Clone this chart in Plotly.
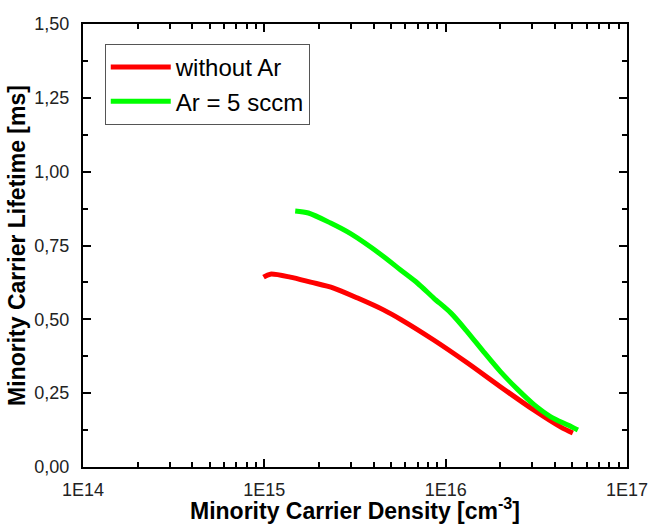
import plotly.graph_objects as go

red_x = [0.99e15, 1.08e15, 1.39e15, 1.80e15, 2.41e15, 3.27e15, 4.54e15, 5.64e15, 8.59e15, 1.32e16, 2.01e16, 3.06e16, 4.32e16, 5.03e16]
red_y = [0.643, 0.653, 0.643, 0.626, 0.606, 0.572, 0.532, 0.500, 0.430, 0.352, 0.271, 0.193, 0.135, 0.115]

green_x = [1.48e15, 1.75e15, 2.32e15, 2.99e15, 4.54e15, 5.64e15, 6.98e15, 8.59e15, 1.07e16, 1.32e16, 1.62e16, 2.01e16, 2.50e16, 3.06e16, 3.80e16, 4.72e16, 5.36e16]
green_y = [0.867, 0.860, 0.826, 0.790, 0.713, 0.667, 0.623, 0.572, 0.521, 0.457, 0.390, 0.322, 0.262, 0.212, 0.170, 0.142, 0.125]

x_tickvals = [1e14, 1e15, 1e16, 1e17]
x_ticktext = ["1E14", "1E15", "1E16", "1E17"]
x_minor = [m * 10 ** e for e in (14, 15, 16) for m in range(2, 10)]
y_tickvals = [0, 0.25, 0.5, 0.75, 1.0, 1.25, 1.5]

FONT = "Liberation Sans, Arial, sans-serif"

fig = go.Figure()
fig.add_trace(go.Scatter(x=red_x, y=red_y, mode="lines", name="without Ar",
                         line=dict(color="#FF0000", width=5, shape="spline", smoothing=0.8)))
fig.add_trace(go.Scatter(x=green_x, y=green_y, mode="lines", name="Ar = 5 sccm",
                         line=dict(color="#00FF00", width=5, shape="spline", smoothing=0.8)))

axis_common = dict(showline=True, linecolor="black", linewidth=2, mirror="ticks",
                   ticks="inside", tickcolor="black", tickwidth=2, ticklen=8,
                   showgrid=False, zeroline=False, automargin=False,
                   tickfont=dict(family=FONT, size=18, color="#222"))

fig.update_xaxes(type="log", range=[14, 17], tickvals=x_tickvals, ticktext=x_ticktext,
                 ticklabelstandoff=5,
                 minor=dict(tickvals=x_minor, ticks="inside", ticklen=5, tickwidth=1.5, tickcolor="black"),
                 title=dict(text="<b>Minority Carrier Density [cm<sup>-3</sup>]</b>",
                            font=dict(family=FONT, size=23, color="black"),
                            standoff=0),
                 **axis_common)
fig.update_yaxes(range=[0, 1.5], tickvals=y_tickvals, tickformat=".2f",
                 ticklabelstandoff=8,
                 minor=dict(dtick=0.125, tick0=0, ticks="inside", ticklen=5, tickwidth=1.5, tickcolor="black"),
                 title=dict(text="<b>Minority Carrier Lifetime [ms]</b>",
                            font=dict(family=FONT, size=23, color="black"),
                            standoff=2),
                 **axis_common)

fig.update_layout(
    width=651, height=524,
    separators=",.",
    margin=dict(l=83, r=24, t=24, b=57),
    plot_bgcolor="white", paper_bgcolor="white",
    font=dict(family=FONT, color="black"),
    showlegend=True,
    legend=dict(x=0.04, y=0.955, xanchor="left", yanchor="top",
                bgcolor="white", bordercolor="#555", borderwidth=1,
                font=dict(family=FONT, size=24, color="black"),
                itemwidth=60, tracegroupgap=0),
)

fig.write_html("out.html")
